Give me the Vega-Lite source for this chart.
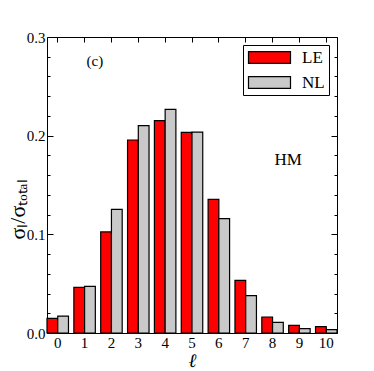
{
  "$schema": "https://vega.github.io/schema/vega-lite/v6.json",
  "width": 290,
  "height": 296,
  "autosize": {"type": "none"},
  "padding": {"left": 47, "top": 37, "right": 37, "bottom": 38},
  "background": "white",
  "config": {
    "view": {"stroke": "black", "strokeWidth": 1},
    "font": "Liberation Serif",
    "axis": {
      "grid": false,
      "domainColor": "black",
      "tickColor": "black",
      "labelColor": "black",
      "labelFont": "Liberation Serif",
      "labelFontSize": 15,
      "titleFont": "Liberation Serif",
      "titleFontWeight": "normal",
      "titleColor": "black"
    }
  },
  "datasets": {
    "bars": [
      {"l": 0, "model": "LE", "v": 0.0149}, {"l": 0, "model": "NL", "v": 0.0172},
      {"l": 1, "model": "LE", "v": 0.0463}, {"l": 1, "model": "NL", "v": 0.0473},
      {"l": 2, "model": "LE", "v": 0.1024}, {"l": 2, "model": "NL", "v": 0.1253},
      {"l": 3, "model": "LE", "v": 0.1956}, {"l": 3, "model": "NL", "v": 0.2101},
      {"l": 4, "model": "LE", "v": 0.2152}, {"l": 4, "model": "NL", "v": 0.2267},
      {"l": 5, "model": "LE", "v": 0.2034}, {"l": 5, "model": "NL", "v": 0.2036},
      {"l": 6, "model": "LE", "v": 0.1355}, {"l": 6, "model": "NL", "v": 0.1159},
      {"l": 7, "model": "LE", "v": 0.0534}, {"l": 7, "model": "NL", "v": 0.0378},
      {"l": 8, "model": "LE", "v": 0.0162}, {"l": 8, "model": "NL", "v": 0.0108},
      {"l": 9, "model": "LE", "v": 0.0078}, {"l": 9, "model": "NL", "v": 0.0044},
      {"l": 10, "model": "LE", "v": 0.0064}, {"l": 10, "model": "NL", "v": 0.0034}
    ]
  },
  "resolve": {"axis": {"x": "independent", "y": "independent"}},
  "layer": [
    {
      "data": {"name": "bars"},
      "mark": {"type": "bar", "stroke": "black", "strokeWidth": 1.2},
      "encoding": {
        "x": {
          "field": "l", "type": "ordinal",
          "scale": {"paddingInner": 0.2, "paddingOuter": 0},
          "axis": {"orient": "bottom", "title": "ℓ", "titleFontSize": 19, "titleFontStyle": "italic", "titlePadding": 1, "labelAngle": 0, "tickSize": -5, "labelPadding": 7, "domain": false}
        },
        "y": {
          "field": "v", "type": "quantitative",
          "scale": {"domain": [0, 0.3], "nice": false, "zero": true},
          "axis": {"orient": "left", "values": [0, 0.1, 0.2, 0.3], "format": ".1f", "tickSize": -6, "labelPadding": 8, "domain": false, "title": "σₗ/σₜₒₜₐₗ", "titleFontSize": 22, "titleX": -30, "titleY": 172, "titleBaseline": "middle", "titleAlign": "center"}
        },
        "xOffset": {"field": "model", "type": "nominal", "sort": ["LE", "NL"], "scale": {"paddingInner": 0, "paddingOuter": 0}},
        "color": {
          "field": "model", "type": "nominal",
          "scale": {"domain": ["LE", "NL"], "range": ["#ff0000", "#c9c9c9"]},
          "legend": {
            "orient": "top-right", "offset": 8, "title": null,
            "strokeColor": "black", "fillColor": "white", "padding": 4,
            "labelFont": "Liberation Serif", "labelFontSize": 17, "labelColor": "black", "labelOffset": 38,
            "symbolType": "M-1,-0.84H5V0.84H-1Z", "symbolSize": 196,
            "symbolStrokeColor": "black", "symbolStrokeWidth": 1.2, "symbolOpacity": 1,
            "rowPadding": 7
          }
        }
      }
    },
    {
      "data": {"name": "bars"},
      "mark": {"type": "bar", "opacity": 0},
      "encoding": {
        "x": {"field": "l", "type": "ordinal", "axis": {"orient": "top", "labels": false, "title": null, "tickSize": -5, "domain": false}},
        "y": {"field": "v", "type": "quantitative", "axis": {"orient": "right", "labels": false, "title": null, "values": [0, 0.1, 0.2, 0.3], "tickSize": -6, "domain": false}},
        "xOffset": {"field": "model", "type": "nominal", "sort": ["LE", "NL"]}
      }
    },
    {
      "data": {"name": "bars"},
      "mark": {"type": "bar", "opacity": 0},
      "encoding": {
        "x": {"field": "l", "type": "ordinal", "axis": null},
        "y": {"field": "v", "type": "quantitative", "axis": {"orient": "left", "labels": false, "title": null, "values": [0.02, 0.04, 0.06, 0.08, 0.12, 0.14, 0.16, 0.18, 0.22, 0.24, 0.26, 0.28], "tickSize": -3, "domain": false}},
        "xOffset": {"field": "model", "type": "nominal", "sort": ["LE", "NL"]}
      }
    },
    {
      "data": {"name": "bars"},
      "mark": {"type": "bar", "opacity": 0},
      "encoding": {
        "x": {"field": "l", "type": "ordinal", "axis": null},
        "y": {"field": "v", "type": "quantitative", "axis": {"orient": "right", "labels": false, "title": null, "values": [0.02, 0.04, 0.06, 0.08, 0.12, 0.14, 0.16, 0.18, 0.22, 0.24, 0.26, 0.28], "tickSize": -3, "domain": false}},
        "xOffset": {"field": "model", "type": "nominal", "sort": ["LE", "NL"]}
      }
    },
    {
      "data": {"values": [{"l": 1, "v": 0.276, "t": "(c)"}]},
      "mark": {"type": "text", "align": "left", "baseline": "middle", "font": "Liberation Serif", "fontSize": 15, "color": "black", "dx": 2},
      "encoding": {
        "x": {"field": "l", "type": "ordinal", "axis": null},
        "y": {"field": "v", "type": "quantitative", "axis": null},
        "text": {"field": "t"}
      }
    },
    {
      "data": {"values": [{"l": 8, "v": 0.175, "t": "HM"}]},
      "mark": {"type": "text", "align": "left", "baseline": "middle", "font": "Liberation Serif", "fontSize": 17, "color": "black", "dx": 2},
      "encoding": {
        "x": {"field": "l", "type": "ordinal", "axis": null},
        "y": {"field": "v", "type": "quantitative", "axis": null},
        "text": {"field": "t"}
      }
    }
  ]
}
